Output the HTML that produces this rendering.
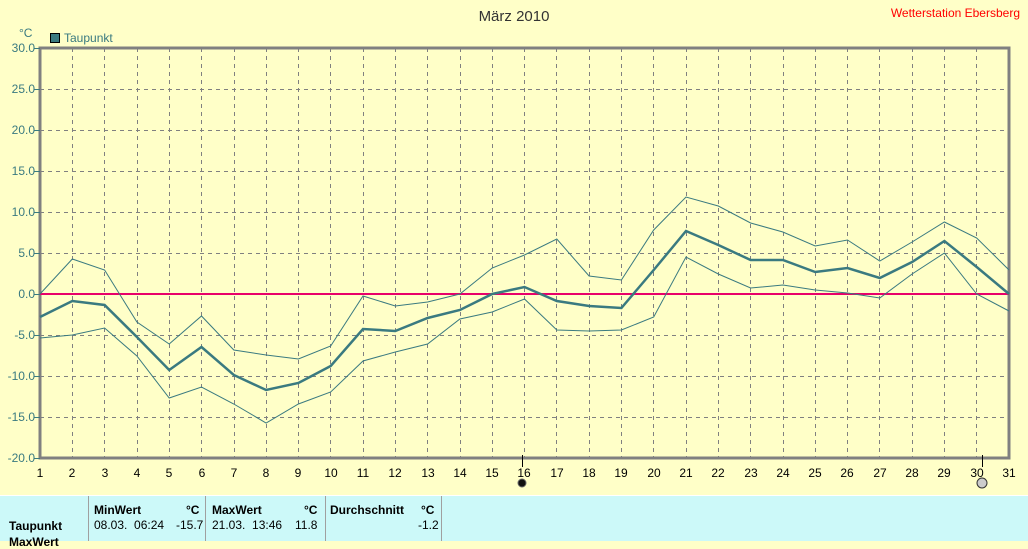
<!DOCTYPE html>
<html><head><meta charset="utf-8"><style>
body{margin:0;width:1028px;height:540px;overflow:hidden;background:#ffffc8;font-family:"Liberation Sans",sans-serif}
svg{position:absolute;left:0;top:0}
.b{position:absolute;top:495px;left:0;width:1028px;height:45px;background:#ccf9f9;border-top:1px solid #fff}
.t{position:absolute;font-size:12px;color:#000;white-space:nowrap}
.bd{font-weight:bold}
.v{position:absolute;top:0;width:1px;height:45px;background:#a0a0a0}
</style></head><body>
<svg width="1028" height="540" xmlns="http://www.w3.org/2000/svg" font-family="Liberation Sans, sans-serif">
<text x="514" y="21" font-size="15" text-anchor="middle" fill="#333">März 2010</text>
<text x="1020" y="17" font-size="12" text-anchor="end" fill="#ff0000">Wetterstation Ebersberg</text>
<text x="19" y="37" font-size="12" fill="#3a7a80">°C</text>
<rect x="50.5" y="33.5" width="9" height="9" fill="#3a7a80" stroke="#000"/>
<text x="64" y="42" font-size="12" fill="#3a7a80">Taupunkt</text>
<g stroke="#808080" stroke-dasharray="4,4" stroke-width="1">
<path d="M40 89.5H1009M40 130.5H1009M40 171.5H1009M40 212.5H1009M40 253.5H1009M40 335.5H1009M40 376.5H1009M40 417.5H1009"/>
<path d="M72.5 48V458M104.5 48V458M137.5 48V458M169.5 48V458M201.5 48V458M234.5 48V458M266.5 48V458M298.5 48V458M330.5 48V458M363.5 48V458M395.5 48V458M427.5 48V458M460.5 48V458M492.5 48V458M524.5 48V458M556.5 48V458M589.5 48V458M621.5 48V458M653.5 48V458M686.5 48V458M718.5 48V458M750.5 48V458M783.5 48V458M815.5 48V458M847.5 48V458M879.5 48V458M912.5 48V458M944.5 48V458M976.5 48V458"/>
</g>
<path d="M40 48H1009V458H40Z" fill="none" stroke="#808080" stroke-width="3"/>
<g fill="#3a7a80" font-size="12" text-anchor="end">
<text x="35" y="52">30.0</text><text x="35" y="93">25.0</text><text x="35" y="134">20.0</text><text x="35" y="175">15.0</text><text x="35" y="216">10.0</text><text x="35" y="257">5.0</text><text x="35" y="298">0.0</text><text x="35" y="339">-5.0</text><text x="35" y="380">-10.0</text><text x="35" y="421">-15.0</text><text x="35" y="462">-20.0</text>
</g>
<g stroke="#3a7a80"><path d="M34 48.5H40M34 89.5H40M34 130.5H40M34 171.5H40M34 212.5H40M34 253.5H40M34 294.5H40M34 335.5H40M34 376.5H40M34 417.5H40M34 458.5H40"/></g>
<g font-size="12" text-anchor="middle" fill="#000">
<text x="40" y="477">1</text><text x="72" y="477">2</text><text x="105" y="477">3</text><text x="137" y="477">4</text><text x="169" y="477">5</text><text x="202" y="477">6</text><text x="234" y="477">7</text><text x="266" y="477">8</text><text x="298" y="477">9</text><text x="331" y="477">10</text><text x="363" y="477">11</text><text x="395" y="477">12</text><text x="428" y="477">13</text><text x="460" y="477">14</text><text x="492" y="477">15</text><text x="524" y="477">16</text><text x="557" y="477">17</text><text x="589" y="477">18</text><text x="621" y="477">19</text><text x="654" y="477">20</text><text x="686" y="477">21</text><text x="718" y="477">22</text><text x="751" y="477">23</text><text x="783" y="477">24</text><text x="815" y="477">25</text><text x="847" y="477">26</text><text x="880" y="477">27</text><text x="912" y="477">28</text><text x="944" y="477">29</text><text x="977" y="477">30</text><text x="1009" y="477">31</text>
</g>
<path d="M522.5 455V467M982.5 455V467" stroke="#000"/>
<circle cx="522" cy="483" r="4" fill="#111" stroke="#666"/>
<circle cx="982" cy="483" r="5" fill="#ccc" stroke="#333"/>
<path d="M40 294H1009" stroke="#e8006a" stroke-width="2"/>
<g fill="none" stroke="#3a7a80" stroke-width="1">
<polyline points="40,294 72.3,259 104.6,270 136.9,322 169.2,344 201.5,316 233.8,350 266.1,355 298.4,359 330.7,346 363,296 395.3,306 427.6,302 459.9,294 492.2,268 524.5,255 556.8,239 589.1,276 621.4,280 653.7,230 686,197 718.3,206 750.6,223 782.9,232 815.2,246 847.5,240 879.8,261 912.1,242 944.4,222 976.7,238 1009,270"/>
<polyline points="40,338 72.3,335 104.6,328 136.9,356 169.2,398 201.5,387 233.8,404 266.1,423 298.4,404 330.7,392 363,361 395.3,352 427.6,344 459.9,319 492.2,312 524.5,299 556.8,330 589.1,331 621.4,330 653.7,317 686,257 718.3,274 750.6,288 782.9,285 815.2,290 847.5,293 879.8,298 912.1,274 944.4,253 976.7,294 1009,311"/>
<polyline stroke-width="2.5" points="40,317 72.3,301 104.6,305 136.9,337 169.2,370 201.5,347 233.8,375 266.1,390 298.4,383 330.7,366 363,329 395.3,331 427.6,318 459.9,310 492.2,294 524.5,287 556.8,301 589.1,306 621.4,308 653.7,270 686,231 718.3,245 750.6,260 782.9,260 815.2,272 847.5,268 879.8,278 912.1,262 944.4,241 976.7,267 1009,294"/>
</g>
</svg>
<div class="b">
<div class="v" style="left:88px"></div><div class="v" style="left:205px"></div><div class="v" style="left:325px"></div><div class="v" style="left:441px"></div>
<div class="t bd" style="left:94px;top:7px">MinWert</div><div class="t bd" style="left:186px;top:7px">°C</div>
<div class="t bd" style="left:212px;top:7px">MaxWert</div><div class="t bd" style="left:304px;top:7px">°C</div>
<div class="t bd" style="left:330px;top:7px">Durchschnitt</div><div class="t bd" style="left:421px;top:7px">°C</div>
<div class="t bd" style="left:9px;top:23px">Taupunkt</div>
<div class="t" style="left:94px;top:22px">08.03.&nbsp; 06:24</div><div class="t" style="left:176px;top:22px">-15.7</div>
<div class="t" style="left:212px;top:22px">21.03.&nbsp; 13:46</div><div class="t" style="left:295px;top:22px">11.8</div>
<div class="t" style="left:418px;top:22px">-1.2</div>
<div class="t bd" style="left:9px;top:39px">MaxWert</div>
</div>
</body></html>
